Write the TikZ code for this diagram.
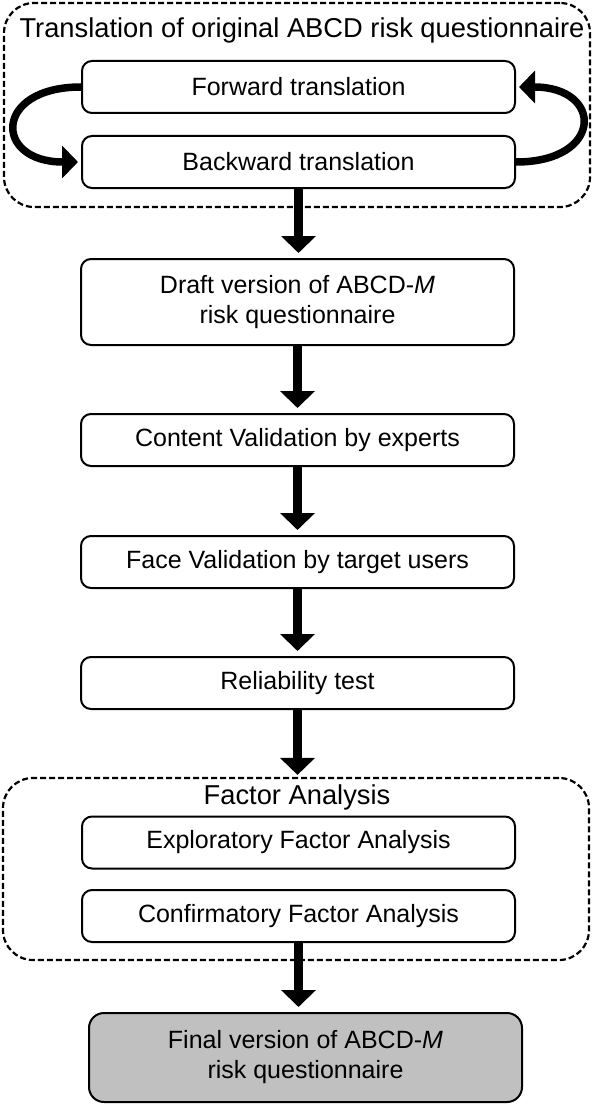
\documentclass[tikz,border=0pt]{standalone}
\usepackage{fontspec}
\setmainfont{Liberation Sans}
\usetikzlibrary{arrows.meta}

\definecolor{finalgray}{RGB}{192,192,192}

\tikzset{
  stepbox/.style={draw, line width=2pt, rounded corners=10pt, minimum width=433pt,
    minimum height=52pt, inner sep=0pt, align=center, font=\fontsize{25}{30}\selectfont},
  groupbox/.style={draw, line width=2.2pt, dash pattern=on 6pt off 3pt,
    rounded corners=30pt, minimum width=586pt, inner sep=0pt},
  grouptitle/.style={font=\fontsize{27.3}{31}\selectfont, inner sep=0pt},
  bigarrow/.style={line width=9pt, -{Triangle[width=34pt,length=17pt]}, shorten >=5pt},
  turnarrow/.style={line width=7.5pt, -{Triangle[width=32pt,length=16pt]}, looseness=3, shorten >=3pt},
}

\begin{document}
\begin{tikzpicture}[x=1pt,y=-1pt]
        \useasboundingbox (0,0) rectangle (595,1105);

        % translation group
        \node[groupbox, minimum height=204pt] (trans) at (297,105) {};
        \node[grouptitle] (transtitle) at (302,30) {Translation of original ABCD risk questionnaire};
        \node[stepbox] (fwd) at (298.5,87) {Forward translation};
        \node[stepbox] (bwd) at (298.5,162) {Backward translation};

        \draw[turnarrow] (fwd.west) to[out=180,in=180] (bwd.west);
        \draw[turnarrow] (bwd.east) to[out=0,in=0] (fwd.east);

        % single steps
        \node[stepbox, minimum height=86pt] (draft) at (297.5,302) {Draft version of ABCD-\textit{M}\\risk questionnaire};
        \node[stepbox] (content) at (297.5,440) {Content Validation by experts};
        \node[stepbox] (face) at (297.5,562) {Face Validation by target users};
        \node[stepbox] (reliab) at (297.5,683) {Reliability test};

        % factor analysis group
        \node[groupbox, minimum height=182pt] (factor) at (296,869) {};
        \node[grouptitle] (factortitle) at (297,797) {Factor Analysis};
        \node[stepbox] (explor) at (298.5,842.5) {Exploratory Factor Analysis};
        \node[stepbox] (confirm) at (298.5,916) {Confirmatory Factor Analysis};

        \node[stepbox, minimum height=89pt, rounded corners=15pt, fill=finalgray] (final) at (305.5,1057.5) {Final version of ABCD-\textit{M}\\risk questionnaire};

        \draw[bigarrow] (bwd.south) -- (bwd.south |- draft.north);
        \draw[bigarrow] (draft.south) -- (content.north);
        \draw[bigarrow] (content.south) -- (face.north);
        \draw[bigarrow] (face.south) -- (reliab.north);
        \draw[bigarrow, shorten >=2pt] (reliab.south) -- (reliab.south |- factor.north);
        \draw[bigarrow] (confirm.south) -- (confirm.south |- final.north);
\end{tikzpicture}
\end{document}
